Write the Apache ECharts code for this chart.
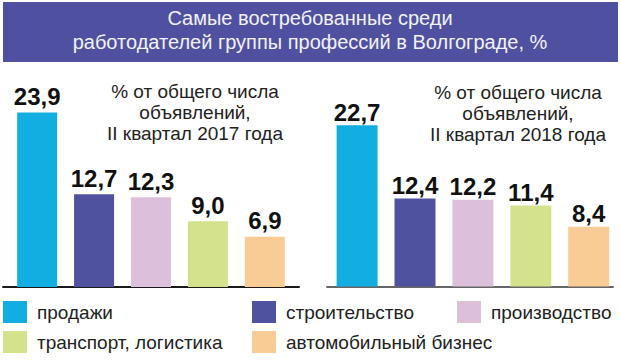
<!DOCTYPE html>
<html><head><meta charset="utf-8">
<script src="https://cdn.jsdelivr.net/npm/echarts@6/dist/echarts.min.js"></script>
<style>html,body{margin:0;padding:0;background:#fff}#c{width:620px;height:364px}</style>
</head><body><div id="c"></div>
<script>
const categories = ['продажи', 'строительство', 'производство', 'транспорт, логистика', 'автомобильный бизнес'];
const values2017 = [23.9, 12.7, 12.3, 9.0, 6.9];
const values2018 = [22.7, 12.4, 12.2, 11.4, 8.4];
const titleLines = ['Самые востребованные среди', 'работодателей группы профессий в Волгограде, %'];
const note2017 = ['% от общего числа', 'объявлений,', 'II квартал 2017 года'];
const note2018 = ['% от общего числа', 'объявлений,', 'II квартал 2018 года'];

const colors = ['#12aee2', '#4f529e', '#dbbfdb', '#d4e28c', '#f8cc94'];
const FONT = "'Liberation Sans', Arial, sans-serif";

const chart = echarts.init(document.getElementById('c'), null, {renderer: 'svg'});

const series = [];
[values2017, values2018].forEach((vals, g) => {
  categories.forEach((name, i) => {
    series.push({
      type: 'bar', name: name, xAxisIndex: g, yAxisIndex: g,
      data: [[i, vals[i]]],
      barWidth: g === 0 ? 40 : 41, barGap: '-100%', clip: false,
      itemStyle: {color: colors[i]},
      label: {
        show: true, position: 'top', distance: g === 0 ? 4 : 1,
        fontFamily: FONT, fontWeight: 'bold', fontSize: 24, color: '#111',
        formatter: p => p.value[1].toFixed(1).replace('.', ',')
      },
      emphasis: {disabled: true}, animation: false
    });
  });
});

const legendPos = [[3, 301], [252, 301], [457, 301], [3, 331], [252, 331]];
const legends = categories.map((name, i) => ({
  data: [name], left: legendPos[i][0], top: legendPos[i][1], padding: 0,
  icon: 'rect', itemWidth: 24, itemHeight: 22, selectedMode: false,
  textStyle: {fontFamily: FONT, fontSize: 19, color: '#222', padding: [0, 0, 0, 5]}
}));

const xAxisDef = (gi, min, max, color) => ({
  type: 'value', gridIndex: gi, min: min, max: max,
  axisLine: {show: true, onZero: false, lineStyle: {color: color, width: 2}},
  axisTick: {show: false}, axisLabel: {show: false}, splitLine: {show: false}
});
const yAxisDef = (gi, max) => ({
  type: 'value', gridIndex: gi, min: 0, max: max,
  axisLine: {show: false, lineStyle: {color: 'rgba(0,0,0,0)'}}, axisTick: {show: false},
  axisLabel: {show: false}, splitLine: {show: false}
});

chart.setOption({
  animation: false,
  title: {
    text: titleLines.join('\n'), left: 'center', top: 6, padding: [0, 0, 0, 12],
    textStyle: {fontFamily: FONT, fontWeight: 'normal', fontSize: 20, lineHeight: 24, color: '#f2f2fa'}
  },
  graphic: [
    {type: 'rect', left: 3, top: 2, z: -1, shape: {width: 615, height: 60}, style: {fill: '#5050a0'}},
    {type: 'text', x: 195, y: 81, style: {text: note2017.join('\n'), textAlign: 'center', textVerticalAlign: 'top',
      font: "19px 'Liberation Sans', Arial, sans-serif", lineHeight: 21, fill: '#222'}},
    {type: 'text', x: 518, y: 82, style: {text: note2018.join('\n'), textAlign: 'center', textVerticalAlign: 'top',
      font: "19px 'Liberation Sans', Arial, sans-serif", lineHeight: 21, fill: '#222'}}
  ],
  legend: legends,
  grid: [
    {left: 3, width: 296, top: 71, height: 216, show: false},
    {left: 327, width: 286, top: 70.5, height: 216, show: false}
  ],
  xAxis: [xAxisDef(0, -0.6, 4.6, '#1a1a1a'), xAxisDef(1, -0.52, 4.42, '#666666')],
  yAxis: [yAxisDef(0, 29.6), yAxisDef(1, 30.4)],
  series: series
});
</script></body></html>
